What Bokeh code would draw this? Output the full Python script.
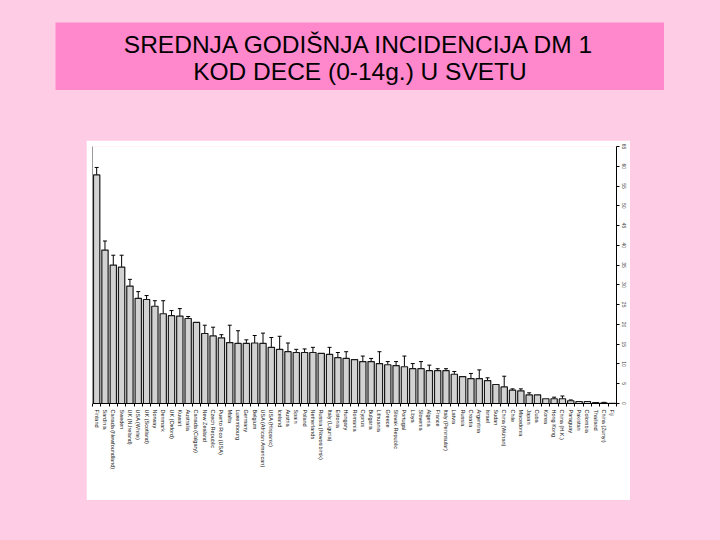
from bokeh.plotting import figure
from bokeh.models import (ColumnDataSource, LinearAxis, FixedTicker, Whisker, TeeHead,
                          Label, Range1d, Spacer)
from bokeh.layouts import column, row
from bokeh.embed import file_html
from bokeh.resources import INLINE

# ---------------- data ----------------
countries = [
    "Finland", "Sardinia", "Canada (Newfoundland)", "Sweden", "UK (N.Ireland)",
    "USA (White)", "UK (Scotland)", "Norway", "Denmark", "UK (Oxford)",
    "Kuwait", "Australia", "Canada (Calgary)", "New Zealand", "Czech Republic",
    "Puerto Rico (USA)", "Malta", "Luxembourg", "Germany", "Belgium",
    "USA (African American)", "USA (Hispanic)", "Iceland", "Austria", "Spain",
    "Poland", "Netherlands", "Russia (Novosibirsk)", "Italy (Liguria)", "Estonia",
    "Hungary", "Romania", "Cyprus", "Bulgaria", "Lithuania",
    "Greece", "Slovak Republic", "Portugal", "Libya", "Slovenia",
    "Algeria", "France", "Italy (Peninsular)", "Latvia", "Russia",
    "Croatia", "Argentina", "Israel", "Sudan", "China (Wuhan)",
    "Chile", "Macedonia", "Japan", "Cuba", "Korea",
    "Hong Kong", "China (H.K.)", "Paraguay", "Pakistan", "Colombia",
    "Thailand", "China (Zunyi)", "Fiji",
]
incidence = [
    57.8, 38.8, 35.0, 34.5, 29.7,
    26.6, 26.3, 24.6, 22.7, 22.2,
    22.1, 21.5, 20.5, 17.7, 17.1,
    16.6, 15.4, 15.2, 15.2, 15.3,
    15.2, 14.2, 13.7, 13.1, 12.9,
    12.9, 12.9, 12.7, 12.4, 11.6,
    11.4, 11.1, 10.6, 10.6, 10.1,
    9.8, 9.6, 9.3, 8.8, 8.8,
    8.3, 8.3, 8.3, 7.4, 6.8,
    6.3, 6.3, 5.8, 4.8, 4.2,
    3.4, 3.2, 2.2, 2.2, 1.2,
    1.2, 1.2, 0.7, 0.5, 0.5,
    0.2, 0.15, 0.05,
]
upper_ci = [
    59.7, 41.1, 37.5, 37.5, 31.4,
    28.3, 27.3, 26.0, 26.0, 23.5,
    24.0, 22.0, None, 19.8, 19.3,
    17.4, 19.8, 18.4, 16.1, 17.2,
    17.8, 16.7, 17.0, 15.3, 13.7,
    13.8, 14.2, None, 14.2, 12.9,
    13.1, None, 12.0, 11.4, 13.1,
    10.6, 10.6, 12.0, 10.1, 10.6,
    9.7, 8.8, 8.8, 8.1, None,
    7.6, 8.5, 6.5, None, 6.9,
    3.7, 3.7, 2.7, None, None,
    1.6, 1.9, 0.9, None, None,
    None, 0.3, None,
]
y_ticks = [0, 5, 10, 15, 20, 25, 30, 35, 40, 45, 50, 55, 60, 65]
title_lines = ["SREDNJA GODIŠNJA INCIDENCIJA DM 1", "KOD DECE (0-14g.) U SVETU"]

PINK = "#FFCCE6"
TITLE_PINK = "#FF88CC"

xs = list(range(1, len(countries) + 1))
bounds = [x - 0.5 for x in xs] + [len(xs) + 0.5]

src = ColumnDataSource(dict(x=xs, top=incidence, name=countries))
ex = [x for x, u in zip(xs, upper_ci) if u is not None]
el = [v for v, u in zip(incidence, upper_ci) if u is not None]
eu = [u for u in upper_ci if u is not None]
esrc = ColumnDataSource(dict(x=ex, lower=el, upper=eu))

# ---------------- title box ----------------
t = figure(width=609, height=68, output_backend="svg", toolbar_location=None,
           x_range=Range1d(0, 1), y_range=Range1d(0, 68),
           x_axis_location=None, y_axis_location=None, min_border=0,
           background_fill_color=TITLE_PINK, border_fill_color=TITLE_PINK,
           outline_line_color=None)
t.grid.visible = False
for i, line in enumerate(title_lines):
    t.add_layout(Label(x=0.5, y=46 - 27 * i, text=line, text_align="center",
                       text_baseline="alphabetic", text_font="Liberation Sans",
                       text_font_size="24.5px", text_color="black"))

# ---------------- chart ----------------
p = figure(width=544, height=360, output_backend="svg", toolbar_location=None,
           x_range=Range1d(0.5, len(xs) + 0.5), y_range=Range1d(0, 65),
           x_axis_location=None, y_axis_location=None,
           min_border_left=6, min_border_right=14, min_border_top=6,
           min_border_bottom=97,
           background_fill_color="white", border_fill_color="white",
           outline_line_color=None)
p.grid.visible = False

p.vbar(x="x", top="top", width=0.76, source=src, fill_color="#d2d2d2",
       line_color="#1a1a1a", line_width=1.2)

p.add_layout(Whisker(source=esrc, base="x", lower="lower", upper="upper",
                     dimension="height", line_color="black", line_width=1,
                     upper_head=TeeHead(size=4, line_color="black", line_width=1),
                     lower_head=None))

xaxis = LinearAxis(ticker=FixedTicker(ticks=xs, minor_ticks=bounds),
                   major_label_overrides={x: c for x, c in zip(xs, countries)},
                   major_label_orientation="vertical",
                   major_label_text_font="Liberation Sans Narrow, Liberation Sans",
                   major_label_text_font_size="5.5px",
                   major_label_text_color="#111111",
                   major_tick_line_color=None, major_tick_out=0, major_tick_in=0,
                   minor_tick_out=3, minor_tick_in=0, minor_tick_line_color="black",
                   axis_line_color="black", major_label_standoff=3)
p.add_layout(xaxis, "below")

yaxis = LinearAxis(ticker=FixedTicker(ticks=y_ticks),
                   major_label_orientation="vertical",
                   major_label_text_font="Liberation Sans",
                   major_label_text_font_size="5px",
                   major_tick_out=3, major_tick_in=0,
                   minor_tick_line_color=None, axis_line_color="black",
                   major_label_standoff=2)
p.add_layout(yaxis, "right")

laxis = LinearAxis(ticker=FixedTicker(ticks=[]), axis_line_color="#999999",
                   major_tick_line_color=None, minor_tick_line_color=None,
                   major_tick_out=0, major_label_standoff=0,
                   major_label_text_font_size="0px")
p.add_layout(laxis, "left")

layout = column(
    Spacer(width=720, height=22),
    row(Spacer(width=55, height=68), t),
    Spacer(width=720, height=50),
    row(Spacer(width=86, height=360), p),
)

html = file_html(layout, INLINE)
html = html.replace("</head>", "<style>body{background:%s;}</style></head>" % PINK, 1)
open("out.html", "w").write(html)
